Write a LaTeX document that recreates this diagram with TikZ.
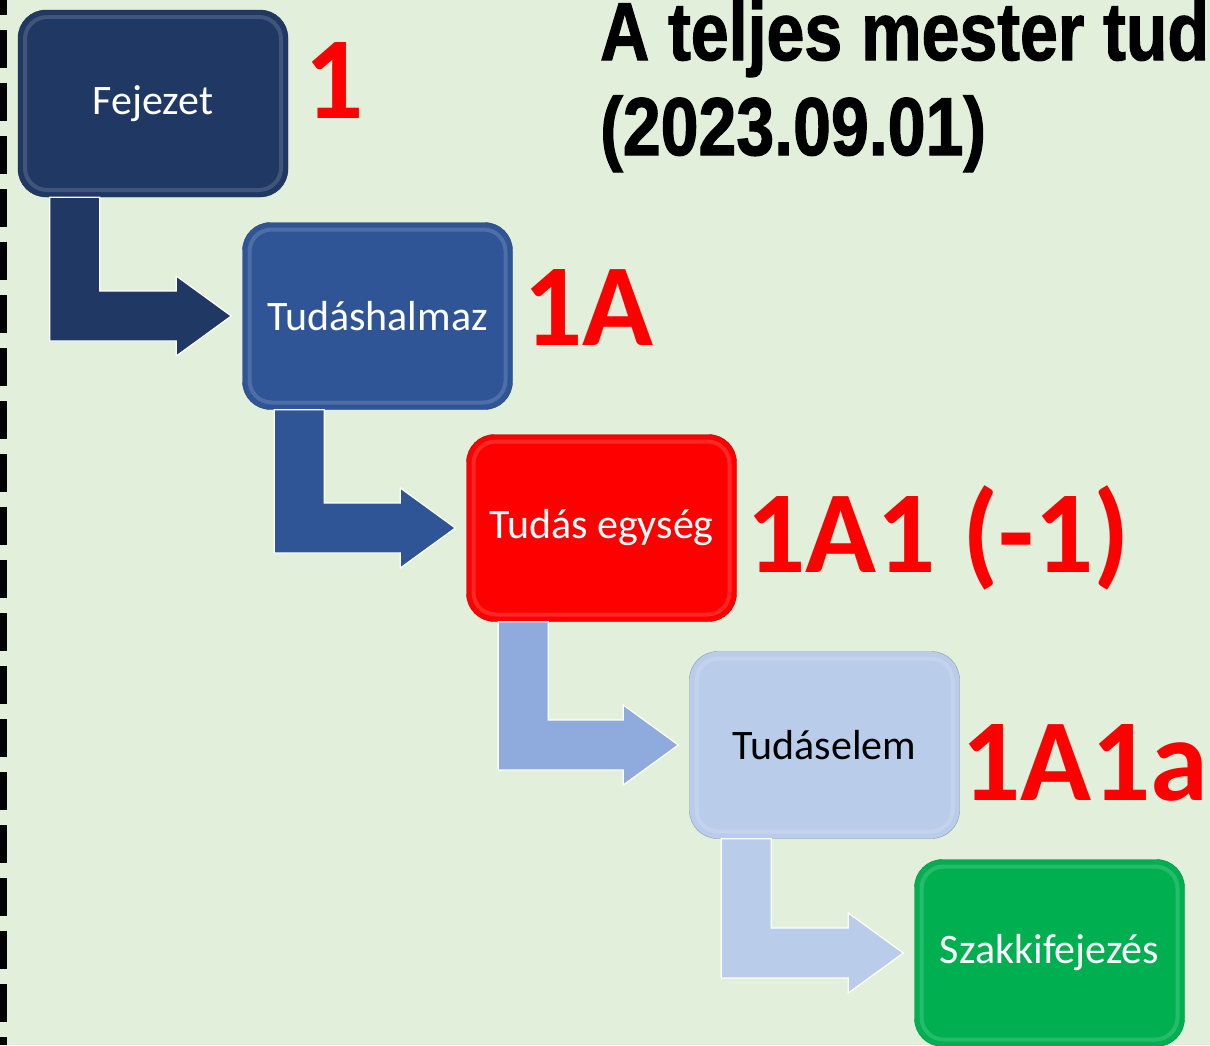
\documentclass[tikz,border=0pt]{standalone}
\usepackage{fontspec}
\setmainfont{Carlito}
\newfontfamily\titlefont[FakeBold=1.6]{Liberation Sans}
\usetikzlibrary{calc}
\definecolor{bggreen}{RGB}{226,239,218}
\definecolor{navy}{RGB}{32,56,100}
\definecolor{midblue}{RGB}{47,85,151}
\definecolor{skyblue}{RGB}{143,170,220}
\definecolor{paleblue}{RGB}{185,204,234}
\definecolor{leafgreen}{RGB}{0,176,80}
\begin{document}
\begin{tikzpicture}[x=1pt,y=1pt,
  box/.style={rounded corners=28pt,minimum width=270pt,minimum height=187pt,inner sep=0pt,
    font=\fontsize{42}{50}\selectfont,text=white,
    path picture={\draw[white,opacity=0.15,line width=4pt,rounded corners=22pt]
      ([shift={(7,-7)}]path picture bounding box.north west) rectangle
      ([shift={(-7,7)}]path picture bounding box.south east);}},
  num/.style={anchor=base west,inner sep=0pt,text=red,font=\fontsize{117}{124}\selectfont\bfseries},
  title/.style={anchor=base west,inner sep=0pt,xscale=0.83,font=\titlefont\fontsize{82}{95}\selectfont\bfseries},
  bent/.style={draw=white,line width=1.2pt,line join=miter}]
\useasboundingbox (0,0) rectangle (1210,-1045);
\fill [bggreen] (0,0) rectangle (1210,-1045);
\draw [black,line width=7pt,dash pattern=on 38pt off 15pt,dash phase=23pt] (3.5,0) -- (3.5,-1045);
\node [box,fill=navy,draw=navy!80!black] (fejezet) at (153,-103.5) {Fejezet};
\node [box,fill=midblue,draw=midblue!80!black] (halmaz) at (377.5,-316) {Tudáshalmaz};
\node [box,fill=red,draw=red!75!black] (egyseg) at (601.5,-528) {Tudás egység};
\node [box,fill=paleblue,draw=paleblue!75!black,text=black] (elem) at (824.5,-745) {Tudáselem};
\node [box,fill=leafgreen,draw=leafgreen!80!black] (szak) at (1049.5,-953) {Szakkifejezés};
\draw [bent,fill=navy] ($(fejezet.south west)+(32,0)$) -- ($(fejezet.south west)+(82,0)$) |- ($(halmaz.west)+(-66,25)$) -- ($(halmaz.west)+(-66,40)$) -- ($(halmaz.west)+(-11,0)$) -- ($(halmaz.west)+(-66,-40)$) -- ($(halmaz.west)+(-66,-25)$) -| cycle;
\draw [bent,fill=midblue] ($(halmaz.south west)+(32,0)$) -- ($(halmaz.south west)+(82,0)$) |- ($(egyseg.west)+(-66,25)$) -- ($(egyseg.west)+(-66,40)$) -- ($(egyseg.west)+(-11,0)$) -- ($(egyseg.west)+(-66,-40)$) -- ($(egyseg.west)+(-66,-25)$) -| cycle;
\draw [bent,fill=skyblue] ($(egyseg.south west)+(32,0)$) -- ($(egyseg.south west)+(82,0)$) |- ($(elem.west)+(-66,25)$) -- ($(elem.west)+(-66,40)$) -- ($(elem.west)+(-11,0)$) -- ($(elem.west)+(-66,-40)$) -- ($(elem.west)+(-66,-25)$) -| cycle;
\draw [bent,fill=paleblue] ($(elem.south west)+(32,0)$) -- ($(elem.south west)+(82,0)$) |- ($(szak.west)+(-66,25)$) -- ($(szak.west)+(-66,40)$) -- ($(szak.west)+(-11,0)$) -- ($(szak.west)+(-66,-40)$) -- ($(szak.west)+(-66,-25)$) -| cycle;
\node [num] (num1) at (304,-118) {1};
\node [num] (num2) at (523,-345) {1A};
\node [num] (num3) at (746,-572) {1A1 (-1)};
\node [num] (num4) at (961,-800) {1A1a};
\node [title] (title1) at (600,-60) {A teljes mester tud};
\node [title] (title2) at (600,-155) {(2023.09.01)};
\end{tikzpicture}
\end{document}
